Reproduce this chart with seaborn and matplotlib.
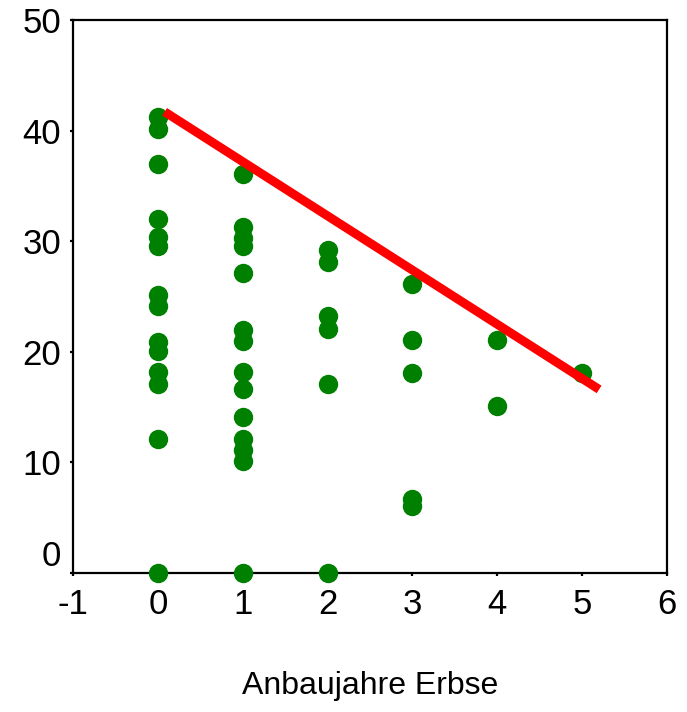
import matplotlib
matplotlib.use("Agg")
import matplotlib.pyplot as plt
import matplotlib.transforms as mtransforms
import seaborn as sns
import pandas as pd

# Years of pea cultivation and the measured value per plot
years_0 = [0] * 14
values_0 = [41.2, 40.1, 37, 32, 30.4, 29.6, 25.1, 24.1, 20.9, 20.1, 18.2, 17.1, 12.1, 0]
years_1 = [1] * 14
values_1 = [36.1, 31.3, 30.3, 29.6, 27.1, 22, 21, 18.2, 16.6, 14.1, 12.1, 11.1, 10.1, 0]
years_2 = [2] * 6
values_2 = [29.2, 28.1, 23.2, 22.1, 17.1, 0]
years_3 = [3] * 5
values_3 = [26.1, 21.1, 18.1, 6.7, 6.1]
years_4 = [4] * 2
values_4 = [21.1, 15.1]
years_5 = [5]
values_5 = [18.1]

# Upper boundary line
line_x = [0.08, 5.2]
line_y = [41.7, 16.6]

x_ticks = [-1, 0, 1, 2, 3, 4, 5, 6]
y_ticks = [0, 10, 20, 30, 40, 50]
x_label = "Anbaujahre Erbse"

points = pd.DataFrame({
    "jahre": years_0 + years_1 + years_2 + years_3 + years_4 + years_5,
    "wert": values_0 + values_1 + values_2 + values_3 + values_4 + values_5,
})
boundary = pd.DataFrame({"jahre": line_x, "wert": line_y})

sns.set_style("ticks")
plt.rcParams["font.family"] = ["Liberation Sans", "DejaVu Sans"]
plt.rcParams["text.color"] = "black"
plt.rcParams["axes.labelcolor"] = "black"

fig = plt.figure(figsize=(6.87, 7.12), dpi=100)
ax = fig.add_axes([73 / 687, 1 - 573 / 712, 594 / 687, 553 / 712])

sns.scatterplot(data=points, x="jahre", y="wert", ax=ax, color="#008000",
                s=195, linewidth=0, zorder=3, clip_on=False, legend=False)
sns.lineplot(data=boundary, x="jahre", y="wert", ax=ax, color="#ff0000",
             linewidth=6.4, sort=False, estimator=None, zorder=4,
             solid_capstyle="butt", legend=False)

ax.set_xlim(-1, 6)
ax.set_ylim(0, 50)
ax.set_xticks(x_ticks)
ax.set_yticks(y_ticks)
ax.set_xticklabels([str(t) for t in x_ticks])
ax.set_yticklabels([str(t) for t in y_ticks])
ax.tick_params(axis="both", direction="out", length=2.5, width=1.6,
               labelsize=25, colors="black", pad=6)
ax.tick_params(axis="x", pad=8)

for side in ["left", "right", "top", "bottom"]:
    ax.spines[side].set_visible(True)
    ax.spines[side].set_linewidth(1.6)
    ax.spines[side].set_color("black")

# Lift the "0" label clear of the x tick labels
offset = mtransforms.ScaledTranslation(0, 0.2, fig.dpi_scale_trans)
zero_label = ax.get_yticklabels()[0]
zero_label.set_transform(zero_label.get_transform() + offset)

ax.set_xlabel(x_label, fontsize=23, labelpad=36, color="black")
ax.set_ylabel("")

fig.savefig("out.png", dpi=100)
